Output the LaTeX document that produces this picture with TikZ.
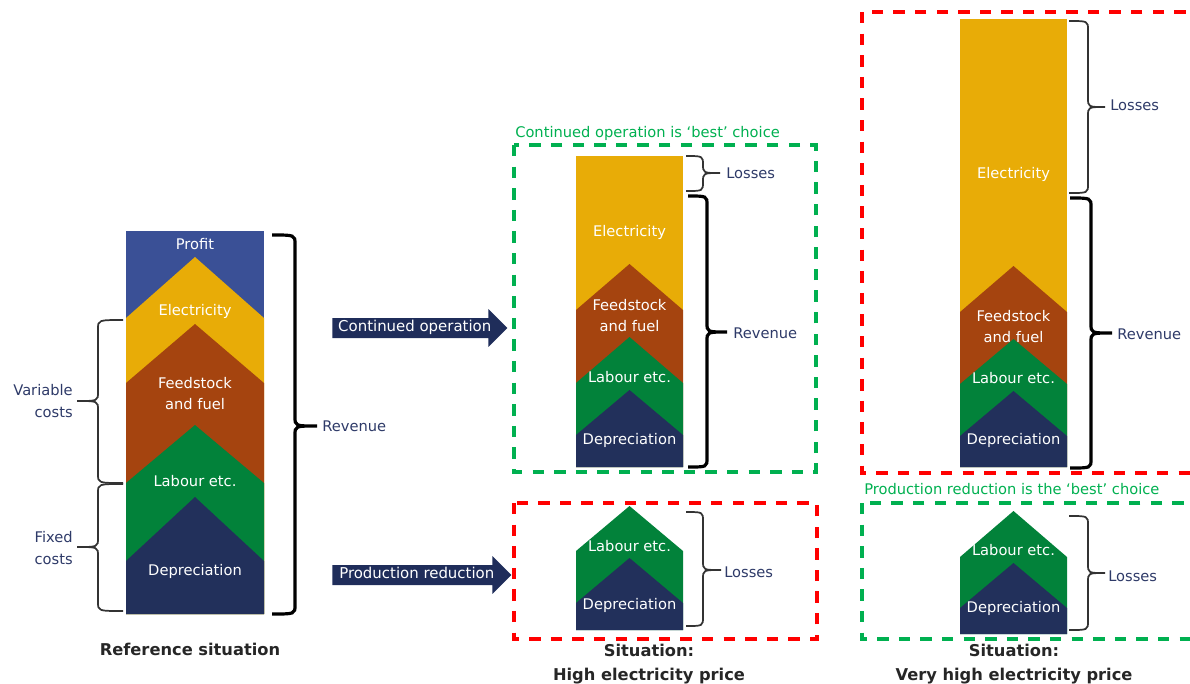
\documentclass[tikz,border=0pt]{standalone}
\usepackage{fontspec}
\setmainfont{DejaVu Sans}
\usepackage{xcolor}
\definecolor{ceink}{HTML}{262626}
\definecolor{cenavy}{HTML}{2E3A68}
\definecolor{ceprofit}{HTML}{3A5096}
\definecolor{ceelec}{HTML}{E8AC07}
\definecolor{cefeed}{HTML}{A5440F}
\definecolor{celabour}{HTML}{02823A}
\definecolor{cedep}{HTML}{22305B}
\definecolor{cearrowbg}{HTML}{1F2D5A}
\definecolor{cegood}{HTML}{00B050}
\definecolor{cebad}{HTML}{FF0000}
\definecolor{cebrk}{HTML}{333333}
\usetikzlibrary{shapes.arrows}
\tikzset{
  celbl/.style    ={font=\fontsize{11}{15.75}\selectfont, text=white, align=center, inner sep=0pt},
  ceside/.style   ={font=\fontsize{11}{16.5}\selectfont, text=cenavy, inner sep=0pt},
  cehead/.style   ={font=\fontsize{11}{13}\selectfont, text=cegood, inner sep=0pt, anchor=west},
  cecap/.style    ={font=\fontsize{12.2}{17.5}\selectfont\bfseries, text=ceink, align=center, inner sep=0pt},
  cearrow/.style  ={single arrow, fill=cearrowbg, text=white, anchor=tail,
                    single arrow head extend=6.6pt, single arrow tip angle=90,
                    inner xsep=3pt, inner ysep=2pt, text height=8.2pt, text depth=2.4pt,
                    font=\fontsize{11.2}{13}\selectfont},
  cegoodbox/.style={draw=cegood, line width=2.4pt, dash pattern=on 8.6pt off 7.6pt},
  cebadbox/.style ={cegoodbox, draw=cebad},
  cethin/.style   ={draw=cebrk, line width=1.3pt},
  cethick/.style  ={draw=black, line width=2.4pt},
}
% colour, left, right, apex, shoulder, bottom
\newcommand{\celayer}[6]{%
  \fill[#1] (#2,#5) -- ({(#2+#3)/2},#4) -- (#3,#5) -- (#3,#6) -- (#2,#6) -- cycle;}
% style, end x, spine x, tip x, top y, bottom y, tip y
\newcommand{\cebrace}[7]{%
  \draw[#1] (#2,#5) .. controls (#3,#5) .. (#3,#5+9) -- (#3,#7-9)
    .. controls (#3,#7) .. (#4,#7) .. controls (#3,#7) .. (#3,#7+9)
    -- (#3,#6-9) .. controls (#3,#6) .. (#2,#6);}

\begin{document}
\begin{tikzpicture}[x=0.75pt, y=-0.75pt]
  \useasboundingbox (0,0) rectangle (1190,683);
  \clip (0,0) rectangle (1190,683);

  % reference situation
  \fill[ceprofit] (126,231) rectangle (264,614);
  \celayer{ceelec}{126}{264}{257}{318}{614}
  \celayer{cefeed}{126}{264}{324}{383}{614}
  \celayer{celabour}{126}{264}{425}{483}{614}
  \celayer{cedep}{126}{264}{497}{561}{614}
  \node[celbl] (ref-profit) at (195,244) {Profit};
  \node[celbl] (ref-elec)   at (195,311) {Electricity};
  \node[celbl] (ref-feed)   at (195,394) {Feedstock\\and fuel};
  \node[celbl] (ref-lab)    at (195,481) {Labour etc.};
  \node[celbl] (ref-dep)    at (195,571) {Depreciation};
  \cebrace{cethin}{123}{98}{77}{320}{483}{401}
  \cebrace{cethin}{123}{98}{77}{484}{611}{547}
  \cebrace{cethick}{272}{295}{317}{235}{614}{426}
  \node[ceside, align=right, anchor=east] (ref-var) at (73,401) {Variable\\costs};
  \node[ceside, align=right, anchor=east] (ref-fix) at (73,548) {Fixed\\costs};
  \node[ceside, anchor=west] (ref-rev) at (322,426) {Revenue};
  \node[cecap] (ref-cap) at (190,649) {Reference situation};

  % the two ways out
  \node[cearrow, minimum height=131.25pt] (contop) at (332,328) {Continued operation};
  \node[cearrow, minimum height=134.25pt] (prodred) at (332,575) {Production reduction};

  % high electricity price
  \draw[cegoodbox] (514,145) rectangle (816,472);
  \node[cehead] (hi-title) at (515,133) {Continued operation is ‘best’ choice};
  \fill[ceelec] (576,156) rectangle (683,467);
  \celayer{cefeed}{576}{683}{264}{310}{467}
  \celayer{celabour}{576}{683}{337}{383}{467}
  \celayer{cedep}{576}{683}{390}{435}{467}
  \node[celbl] (hi-elec) at (629.5,232) {Electricity};
  \node[celbl] (hi-feed) at (629.5,316) {Feedstock\\and fuel};
  \node[celbl] (hi-lab)  at (629.5,377) {Labour etc.};
  \node[celbl] (hi-dep)  at (629.5,440) {Depreciation};
  \cebrace{cethin}{686}{703}{720}{156}{191}{173}
  \cebrace{cethick}{688}{707}{727}{196}{467}{332}
  \node[ceside, anchor=west] (hi-loss) at (726,173) {Losses};
  \node[ceside, anchor=west] (hi-rev)  at (733,333) {Revenue};

  \draw[cebadbox] (514,503) rectangle (817,639);
  \celayer{celabour}{576}{683}{506}{551}{630}
  \celayer{cedep}{576}{683}{558}{603}{630}
  \node[celbl] (hi-lab2) at (629.5,546) {Labour etc.};
  \node[celbl] (hi-dep2) at (629.5,605) {Depreciation};
  \cebrace{cethin}{686}{703}{721}{512}{626}{570}
  \node[ceside, anchor=west] (hi-loss2) at (724,572) {Losses};
  \node[cecap] (hi-cap) at (649,664) {Situation:\\High electricity price};

  % very high electricity price
  \draw[cebadbox] (862,12) rectangle (1200,473);
  \fill[ceelec] (960,19) rectangle (1067,467);
  \celayer{cefeed}{960}{1067}{266}{312}{467}
  \celayer{celabour}{960}{1067}{339}{384}{467}
  \celayer{cedep}{960}{1067}{391}{436}{467}
  \node[celbl] (vh-elec) at (1013.5,174) {Electricity};
  \node[celbl] (vh-feed) at (1013.5,327) {Feedstock\\and fuel};
  \node[celbl] (vh-lab)  at (1013.5,378) {Labour etc.};
  \node[celbl] (vh-dep)  at (1013.5,440) {Depreciation};
  \cebrace{cethin}{1069}{1088}{1105}{21}{193}{107}
  \cebrace{cethick}{1070}{1091}{1112}{198}{468}{333}
  \node[ceside, anchor=west] (vh-loss) at (1110,105) {Losses};
  \node[ceside, anchor=west] (vh-rev)  at (1117,334) {Revenue};

  \draw[cegoodbox] (862,503) rectangle (1200,639);
  \node[cehead] (vh-title) at (864,489) {Production reduction is the ‘best’ choice};
  \celayer{celabour}{960}{1067}{511}{557}{634}
  \celayer{cedep}{960}{1067}{563}{608}{634}
  \node[celbl] (vh-lab2) at (1013.5,550) {Labour etc.};
  \node[celbl] (vh-dep2) at (1013.5,608) {Depreciation};
  \cebrace{cethin}{1069}{1088}{1105}{516}{630}{573}
  \node[ceside, anchor=west] (vh-loss2) at (1108,576) {Losses};
  \node[cecap] (vh-cap) at (1014,664) {Situation:\\Very high electricity price};
\end{tikzpicture}
\end{document}
